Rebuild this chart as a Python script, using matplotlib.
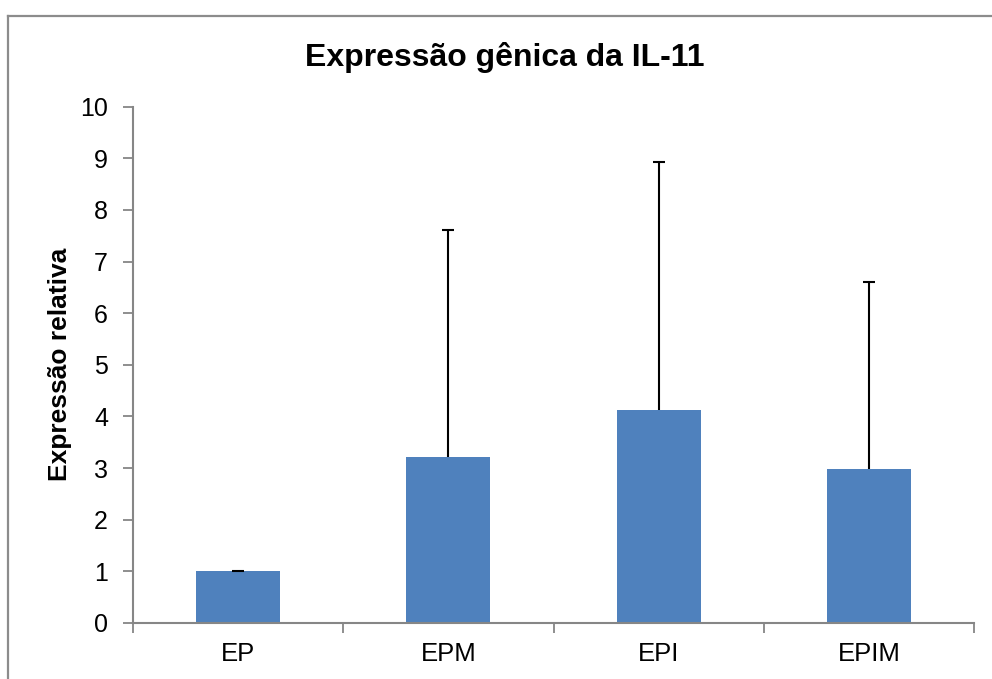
import numpy as np
import matplotlib
matplotlib.use("Agg")
import matplotlib.pyplot as plt
from matplotlib.lines import Line2D

plt.rcParams['font.family'] = ['Liberation Sans', 'DejaVu Sans']

groups = ['EP', 'EPM', 'EPI', 'EPIM']
means = [1.0, 3.22, 4.13, 2.98]
err_top = [1.0, 7.62, 8.92, 6.61]  # top of each error bar

gray = '#868686'

fig = plt.figure(figsize=(9.92, 6.79), dpi=100)
ax = fig.add_axes([0.134, 0.0825, 0.848, 0.7605])

x = np.arange(len(groups))
ax.bar(x, means, width=0.4, color='#4F81BD', zorder=2)
# upper error bars only, cap at the top
ax.vlines(x, means, err_top, color='black', lw=1.5, zorder=3)
ax.hlines(err_top, x - 0.028, x + 0.028, color='black', lw=1.5, zorder=3)

ax.set_xlim(-0.5, len(groups) - 0.5)
ax.set_ylim(0, 10)
ax.set_yticks(range(0, 11))
ax.set_xticks(np.arange(-0.5, len(groups)), minor=False)
ax.set_xticklabels([])
ax.set_xticks(x, minor=True)
ax.set_xticklabels(groups, minor=True)
ax.tick_params(axis='x', which='major', length=7, color=gray, width=1.3, direction='out')
ax.tick_params(axis='x', which='minor', length=0, labelsize=18.5, pad=14)
ax.tick_params(axis='y', length=7, color=gray, width=1.3, labelsize=18, pad=11)

for s in ['top', 'right']:
    ax.spines[s].set_visible(False)
for s in ['left', 'bottom']:
    ax.spines[s].set_color(gray)
    ax.spines[s].set_linewidth(1.5)

ax.set_ylabel('Expressão relativa', fontsize=19, fontweight='bold', labelpad=6)
fig.text(0.509, 0.915, 'Expressão gênica da IL-11', ha='center', va='center',
         fontsize=23, fontweight='bold')

# outer chart frame (clipped at right and bottom)
fig.add_artist(Line2D([0.0085, 0.0085], [0, 0.977], color='#8c8c8c', lw=1.6,
                      transform=fig.transFigure))
fig.add_artist(Line2D([0.0085, 1.0], [0.977, 0.977], color='#8c8c8c', lw=1.6,
                      transform=fig.transFigure))

fig.savefig('out.png', dpi=100)
